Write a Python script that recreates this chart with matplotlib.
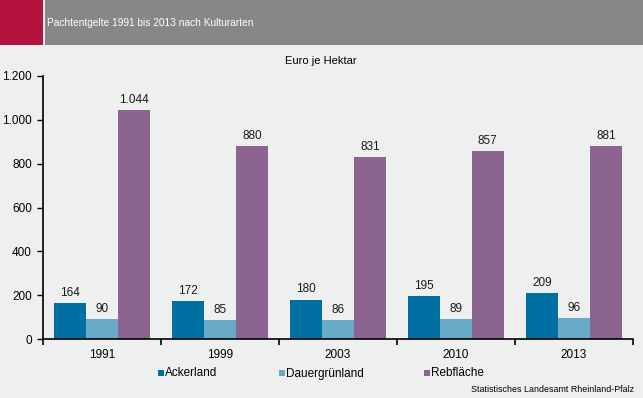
import matplotlib
matplotlib.use("Agg")
import matplotlib.pyplot as plt
from matplotlib.patches import Rectangle
from matplotlib import font_manager
import numpy as np

years = ["1991", "1999", "2003", "2010", "2013"]
series_names = ["Ackerland", "Dauergrünland", "Rebfläche"]
ackerland = [164, 172, 180, 195, 209]
dauergruenland = [90, 85, 86, 89, 96]
rebflaeche = [1044, 880, 831, 857, 881]
yticks = [0, 200, 400, 600, 800, 1000, 1200]
colors = ["#0070A3", "#67ABC9", "#8B6590"]

def de_fmt(v):
    return f"{v:,}".replace(",", ".")

plt.rcParams['font.family'] = ['Liberation Sans', 'DejaVu Sans']
names = {f.name for f in font_manager.fontManager.ttflist}
narrow_ok = 'Liberation Sans Narrow' in names
narrow = ['Liberation Sans Narrow', 'Liberation Sans'] if narrow_ok else ['Liberation Sans']

W, H = 643, 398
fig = plt.figure(figsize=(W/100, H/100), dpi=100)
fig.patch.set_facecolor("#EEF0EF")

# header band
fig.patches.append(Rectangle((0, 1-45/H), 43/W, 45/H, transform=fig.transFigure,
                             facecolor="#B5123E", edgecolor="none", zorder=0))
fig.patches.append(Rectangle((45/W, 1-45/H), 1-45/W, 45/H, transform=fig.transFigure,
                             facecolor="#878787", edgecolor="none", zorder=0))
fig.text(47/W, 1-23/H, "Pachtentgelte 1991 bis 2013 nach Kulturarten", color="white",
         fontsize=8.3 if narrow_ok else 7.3, va="center", ha="left", family=narrow)

ax = fig.add_axes([43/W, (H-339)/H, 590/W, (339-76)/H])
ax.set_facecolor("#EEF0EF")
x = np.arange(len(years))
bw = 0.27
data = [ackerland, dauergruenland, rebflaeche]
for i, (vals, name, c) in enumerate(zip(data, series_names, colors)):
    pos = x + (i-1)*bw
    ax.bar(pos, vals, width=bw, color=c, label=name, zorder=2)
    for p, v in zip(pos, vals):
        ax.annotate(de_fmt(v), (p, v), xytext=(0, 3), textcoords="offset points",
                    ha="center", va="bottom", fontsize=8.5, color="#1a1a1a")

ax.set_xlim(-0.5, len(years)-0.5)
ax.set_ylim(0, 1200)
ax.set_yticks(yticks)
ax.set_yticklabels([de_fmt(t) for t in yticks], fontsize=8.5)
ax.set_xticks(x)
ax.set_xticklabels(years, fontsize=8.5)
ax.tick_params(axis="x", length=0, pad=7)
ax.set_xticks(np.arange(len(years)+1)-0.5, minor=True)
ax.tick_params(axis="x", which="minor", length=4, width=1.2, direction="out")
ax.tick_params(axis="y", length=4, width=1, direction="out", pad=4)
for s in ["top", "right"]:
    ax.spines[s].set_visible(False)
for s in ["left", "bottom"]:
    ax.spines[s].set_linewidth(1.2)
    ax.spines[s].set_color("black")

fig.text(321/W, 1-61/H, "Euro je Hektar", fontsize=8, ha="center", va="center")

# legend: small squares + labels on a common baseline
leg_x = [158, 279, 424]
for name, c, lx in zip(series_names, colors, leg_x):
    fig.patches.append(Rectangle((lx/W, 1-375.5/H), 5.5/W, 5.5/H, transform=fig.transFigure,
                                 facecolor=c, edgecolor="none"))
    fig.text((lx+7)/W, 1-376.5/H, name, fontsize=8.5, ha="left", va="baseline")

fig.text(634/W, 1-389/H, "Statistisches Landesamt Rheinland-Pfalz",
         fontsize=7.8 if narrow_ok else 6.4, ha="right", va="center", family=narrow)

fig.savefig("out.png", dpi=100, facecolor=fig.get_facecolor())
